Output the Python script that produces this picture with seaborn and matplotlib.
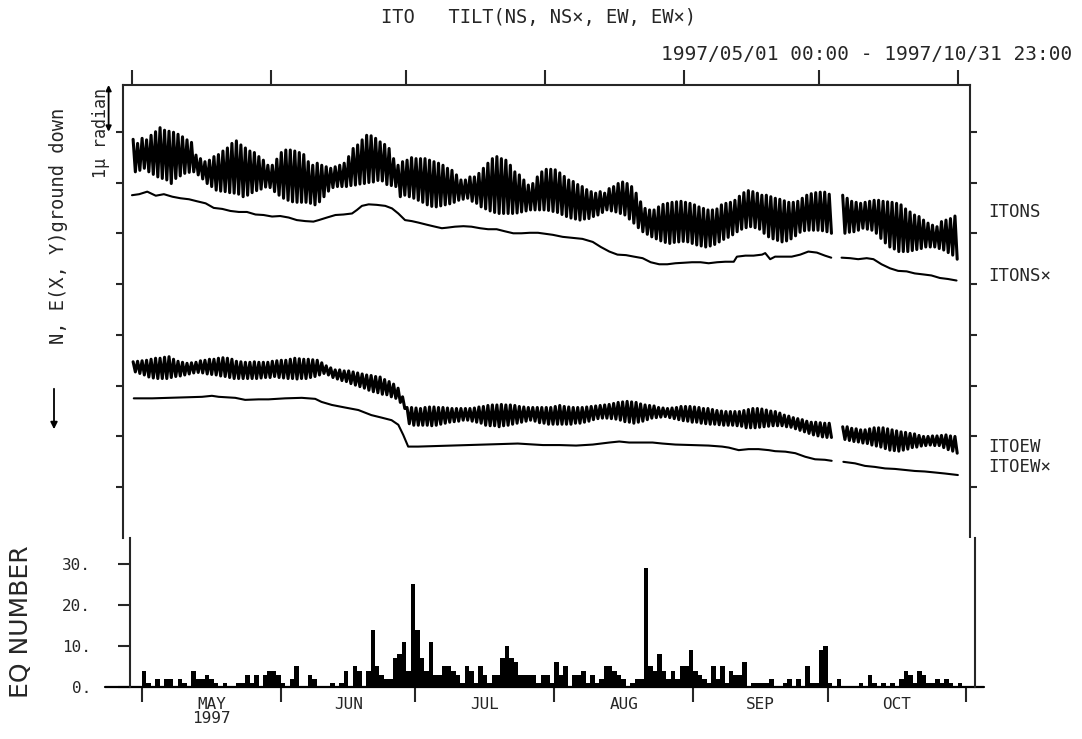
import numpy as np
import pandas as pd
import matplotlib
matplotlib.use("Agg")
import matplotlib.pyplot as plt
import seaborn as sns

nan = np.nan

# ---------------- data (day index 0 = 1997/05/01) ----------------
MONTH_STARTS = [0, 31, 61, 92, 123, 153, 184]
MONTH_LABELS = ["MAY\n1997", "JUN", "JUL", "AUG", "SEP", "OCT"]
TRACE_LABELS = ["ITONS", "ITONS×", "ITOEW", "ITOEW×"]
TRACE_LABEL_Y = [6.42, 5.16, 1.79, 1.40]   # label heights (micro-radian)

# daily max / min of the raw (tidal) tilt records, micro-radian
NS_hi = [7.85,7.77,7.87,7.84,7.93,8.00,8.08,8.03,8.01,7.99,
         7.95,7.90,7.84,7.79,7.54,7.47,7.41,7.44,7.51,7.55,
         7.62,7.68,7.77,7.82,7.74,7.68,7.62,7.59,7.51,7.44,
         7.34,7.34,7.46,7.59,7.64,7.64,7.62,7.59,7.55,7.41,
         7.34,7.38,7.34,7.31,7.28,7.31,7.34,7.38,7.51,7.67,
         7.74,7.84,7.93,7.92,7.87,7.80,7.75,7.67,7.47,7.34,
         7.41,7.44,7.49,7.47,7.47,7.47,7.44,7.41,7.38,7.34,
         7.28,7.24,7.15,7.05,7.05,7.11,7.11,7.18,7.28,7.38,
         7.47,7.51,7.47,7.44,7.34,7.21,7.15,7.05,6.95,6.98,
         7.11,7.21,7.26,7.26,7.25,7.19,7.12,7.05,7.02,6.96,
         6.92,6.86,6.82,6.79,6.82,6.79,6.88,6.92,6.98,7.01,
         6.98,6.92,6.79,6.62,6.49,6.46,6.46,6.52,6.57,6.59,
         6.61,6.62,6.63,6.61,6.59,6.56,6.52,6.49,6.46,6.46,
         6.48,6.56,6.59,6.61,6.65,6.73,6.80,6.84,6.82,6.79,
         6.75,6.75,6.72,6.69,6.67,6.64,6.61,6.61,6.63,6.69,
         6.75,6.78,6.80,6.81,6.81,6.77,nan,nan,6.75,6.69,
         6.63,6.61,6.59,6.61,6.63,6.65,6.65,6.63,6.62,6.61,
         6.59,6.56,6.48,6.42,6.36,6.33,6.26,6.20,6.16,6.13,
         6.23,6.26,6.29,6.34]
NS_lo = [7.21,7.24,7.28,7.21,7.16,7.11,7.08,7.05,6.98,7.08,
         7.13,7.18,7.20,7.21,7.15,7.07,6.98,6.92,6.85,6.83,
         6.82,6.80,6.79,6.77,6.72,6.75,6.80,6.84,6.87,6.91,
         6.90,6.82,6.75,6.69,6.65,6.62,6.61,6.61,6.61,6.59,
         6.56,6.62,6.72,6.83,6.90,6.92,6.92,6.92,6.94,6.95,
         6.97,6.98,7.00,7.01,7.04,7.03,6.96,6.94,6.92,6.72,
         6.75,6.72,6.69,6.65,6.61,6.56,6.53,6.52,6.54,6.56,
         6.58,6.61,6.65,6.67,6.69,6.63,6.59,6.52,6.48,6.44,
         6.41,6.39,6.39,6.39,6.39,6.40,6.42,6.44,6.46,6.46,
         6.46,6.46,6.45,6.43,6.41,6.37,6.33,6.30,6.28,6.26,
         6.28,6.29,6.33,6.36,6.41,6.46,6.44,6.42,6.39,6.36,
         6.28,6.20,6.11,6.03,5.98,5.93,5.89,5.85,5.82,5.80,
         5.82,5.83,5.84,5.83,5.80,5.77,5.75,5.73,5.75,5.78,
         5.83,5.88,5.92,5.97,6.03,6.08,6.11,6.13,6.11,6.08,
         6.00,5.93,5.89,5.86,5.83,5.85,5.89,5.95,6.02,6.05,
         6.06,6.06,6.06,6.05,6.03,6.00,nan,nan,6.00,6.02,
         6.03,6.06,6.10,6.08,6.06,6.00,5.90,5.81,5.73,5.69,
         5.64,5.64,5.64,5.66,5.68,5.70,5.73,5.73,5.73,5.70,
         5.67,5.62,5.57,5.49]
EW_hi = [3.47,3.48,3.49,3.50,3.52,3.54,3.54,3.56,3.57,3.52,
         3.48,3.46,3.44,3.45,3.46,3.49,3.50,3.52,3.52,3.54,
         3.55,3.54,3.52,3.48,3.47,3.46,3.46,3.47,3.46,3.46,
         3.46,3.48,3.49,3.50,3.50,3.52,3.54,3.53,3.52,3.52,
         3.51,3.50,3.45,3.39,3.35,3.31,3.31,3.29,3.29,3.27,
         3.25,3.23,3.21,3.20,3.18,3.17,3.12,3.08,3.03,2.95,
         2.78,2.57,2.57,2.56,2.55,2.57,2.58,2.58,2.57,2.57,
         2.56,2.55,2.55,2.55,2.55,2.55,2.56,2.58,2.59,2.61,
         2.62,2.62,2.63,2.62,2.62,2.61,2.59,2.58,2.57,2.57,
         2.57,2.57,2.57,2.57,2.59,2.61,2.59,2.58,2.57,2.57,
         2.57,2.58,2.59,2.60,2.61,2.62,2.63,2.65,2.67,2.68,
         2.69,2.68,2.67,2.64,2.62,2.61,2.60,2.57,2.56,2.55,
         2.56,2.57,2.59,2.59,2.59,2.58,2.57,2.55,2.55,2.53,
         2.51,2.50,2.49,2.49,2.49,2.49,2.51,2.53,2.55,2.55,
         2.54,2.52,2.50,2.49,2.46,2.42,2.40,2.37,2.35,2.33,
         2.30,2.28,2.28,2.27,2.26,2.26,nan,nan,2.19,2.19,
         2.16,2.15,2.13,2.13,2.15,2.17,2.17,2.17,2.15,2.13,
         2.11,2.09,2.08,2.06,2.05,2.02,2.00,2.00,2.01,2.01,
         2.02,2.03,2.01,2.00]
EW_lo = [3.27,3.24,3.21,3.17,3.15,3.14,3.14,3.14,3.16,3.18,
         3.19,3.21,3.23,3.25,3.26,3.25,3.23,3.22,3.21,3.19,
         3.18,3.16,3.14,3.14,3.14,3.14,3.14,3.14,3.15,3.16,
         3.16,3.18,3.16,3.15,3.14,3.14,3.13,3.14,3.14,3.16,
         3.18,3.21,3.24,3.21,3.16,3.13,3.10,3.08,3.04,3.01,
         2.98,2.95,2.91,2.88,2.86,2.83,2.82,2.78,2.75,2.67,
         2.55,2.25,2.22,2.22,2.22,2.22,2.21,2.22,2.24,2.26,
         2.28,2.29,2.30,2.32,2.32,2.30,2.28,2.26,2.22,2.21,
         2.21,2.19,2.21,2.22,2.24,2.26,2.28,2.30,2.32,2.30,
         2.27,2.26,2.24,2.24,2.24,2.24,2.24,2.24,2.26,2.26,
         2.28,2.30,2.33,2.35,2.36,2.36,2.35,2.34,2.32,2.29,
         2.28,2.26,2.28,2.30,2.33,2.36,2.37,2.38,2.39,2.37,
         2.35,2.33,2.31,2.30,2.28,2.28,2.26,2.25,2.24,2.24,
         2.23,2.22,2.22,2.22,2.21,2.20,2.17,2.17,2.17,2.18,
         2.19,2.20,2.21,2.21,2.21,2.19,2.18,2.15,2.12,2.09,
         2.06,2.03,2.01,1.99,1.98,1.98,nan,nan,1.94,1.92,
         1.90,1.89,1.87,1.86,1.83,1.81,1.79,1.76,1.73,1.72,
         1.71,1.73,1.75,1.78,1.79,1.81,1.82,1.83,1.82,1.82,
         1.78,1.74,1.71,1.67]

# corrected (tide removed) traces
NSx_day = [0.0,1.6,3.4,5.3,7.1,9.0,10.8,12.7,14.5,16.4,
           18.2,20.1,21.9,23.8,25.6,27.5,29.3,31.2,33.0,34.9,
           36.7,38.6,40.4,41.6,43.4,45.3,47.1,49.0,50.1,51.2,
           52.7,54.5,56.4,57.9,59.3,60.8,62.3,63.8,65.6,67.5,
           69.0,70.1,71.9,73.8,75.6,77.5,79.3,81.2,83.0,84.9,
           86.7,88.6,90.4,93.7,95.9,98.1,100.3,102.6,104.4,106.3,
           108.1,110.0,111.8,113.7,115.5,117.4,119.2,121.0,122.9,124.7,
           126.6,128.4,130.3,132.1,134.0,134.7,136.6,138.4,140.3,141.0,
           142.1,143.2,145.1,146.9,148.8,150.6,152.5,154.3,155.7,
           158.0,159.9,161.7,163.6,165.1,166.9,168.8,170.6,172.5,174.3,
           176.2,178.0,179.9,181.7,183.6]
NSx_val = [6.75,6.77,6.82,6.74,6.77,6.72,6.69,6.67,6.63,6.59,
           6.50,6.48,6.44,6.42,6.42,6.37,6.36,6.33,6.34,6.31,
           6.26,6.24,6.23,6.26,6.31,6.36,6.37,6.39,6.46,6.54,
           6.57,6.56,6.54,6.49,6.39,6.26,6.24,6.21,6.17,6.13,
           6.10,6.11,6.13,6.14,6.13,6.10,6.08,6.08,6.04,6.00,
           6.00,6.01,6.01,5.97,5.93,5.91,5.89,5.83,5.73,5.64,
           5.58,5.57,5.54,5.51,5.43,5.39,5.39,5.41,5.42,5.43,
           5.43,5.41,5.43,5.44,5.44,5.54,5.56,5.56,5.58,5.61,
           5.49,5.54,5.54,5.54,5.58,5.64,5.62,5.56,5.52,
           5.52,5.51,5.49,5.51,5.49,5.39,5.31,5.26,5.25,5.21,
           5.19,5.17,5.12,5.10,5.07]
EWx_day = [0.4,4.5,8.2,11.9,15.6,17.8,19.3,23.0,25.2,28.2,
           30.4,34.1,37.8,40.8,42.2,44.5,47.4,50.4,53.3,55.6,
           57.8,59.3,60.4,61.5,63.7,67.4,71.1,74.8,78.5,82.2,
           85.9,89.6,91.5,95.2,98.9,102.6,106.3,108.5,110.7,113.7,
           115.9,118.1,121.0,124.7,128.4,131.4,132.9,135.1,137.3,139.5,
           141.8,143.2,145.5,147.7,149.9,152.1,154.3,155.8,
           158.4,161.0,163.2,165.4,167.7,169.9,172.1,174.3,176.5,178.8,
           181.0,183.9]
EWx_val = [2.75,2.75,2.76,2.77,2.78,2.80,2.78,2.76,2.72,2.73,
           2.73,2.75,2.76,2.74,2.68,2.62,2.57,2.52,2.42,2.37,
           2.32,2.23,2.03,1.80,1.80,1.81,1.82,1.83,1.84,1.85,
           1.86,1.84,1.83,1.83,1.82,1.84,1.88,1.90,1.88,1.88,
           1.88,1.86,1.84,1.83,1.82,1.80,1.78,1.73,1.75,1.75,
           1.73,1.71,1.70,1.67,1.60,1.55,1.54,1.52,
           1.50,1.47,1.42,1.40,1.37,1.36,1.34,1.32,1.31,1.29,
           1.27,1.24]
GAP_DAY = 157  # recording gap (no data early October)

# daily earthquake counts
EQ = [4,1,0,2,0,2,2,0,2,1, 0,4,2,2,3,2,1,0,1,0, 0,1,1,3,1,3,0,3,4,4,
      3,1,0,2,5,0,0,3,2,0, 0,0,1,0,1,4,0,5,4,0, 4,14,5,3,2,2,7,8,11,4,
      25,14,7,4,11,3,3,5,5,4, 3,1,5,4,1,5,3,1,3,3, 7,10,7,6,3,3,3,3,1,3,
      3,1,6,3,5,0,3,3,4,1, 3,1,2,5,5,4,3,2,0,1, 2,2,29,5,4,8,4,2,4,2,
      5,5,9,4,3,2,1,5,2,5, 1,4,3,3,6,0,1,1,1,1, 2,0,0,1,2,0,2,0,5,1,
      1,9,10,1,0,2,0,0,0,0, 1,0,3,1,0,1,0,1,0,2, 4,3,1,4,3,1,1,2,1,2,
      1,0,1,0]

# ---------------- figure ----------------
sns.set_theme(style="ticks")
MONO = ["DejaVu Sans Mono", "DejaVu Sans"]
plt.rcParams["font.family"] = MONO
plt.rcParams["axes.linewidth"] = 1.5

W, H = 1082, 739
fig = plt.figure(figsize=(W / 100, H / 100), dpi=100)
fig.patch.set_facecolor("white")


def rect(l, t, r, b):
    return [l / W, 1 - b / H, (r - l) / W, (b - t) / H]


ax = fig.add_axes(rect(123, 85, 970, 538))
axb = fig.add_axes(rect(130, 538, 975, 687))

days = np.arange(len(NS_hi))


def tidal_trace(a, hi, lo):
    """Raw record drawn as a line running through each day's max then min."""
    hi = np.asarray(hi, float)
    lo = np.asarray(lo, float)
    df = pd.DataFrame({
        "t": np.column_stack([days + 0.25, days + 0.75]).ravel(),
        "v": np.column_stack([hi, lo]).ravel(),
    })
    df["seg"] = (df["t"] > GAP_DAY).astype(int)
    df = df.dropna()
    sns.lineplot(data=df, x="t", y="v", units="seg", estimator=None,
                 sort=False, color="black", lw=2.2, ax=a, legend=False)


tidal_trace(ax, NS_hi, NS_lo)
tidal_trace(ax, EW_hi, EW_lo)

for d, v in [(NSx_day, NSx_val), (EWx_day, EWx_val)]:
    df = pd.DataFrame({"day": d, "val": v})
    df["seg"] = (df["day"] > GAP_DAY).astype(int)
    sns.lineplot(data=df, x="day", y="val", units="seg", estimator=None,
                 sort=False, color="black", lw=1.5, ax=ax, legend=False)

ax.set_xlim(-2.0, 186.6)
ax.set_ylim(0, 8.92)
ax.set_xlabel("")
ax.set_ylabel("")
ax.spines["bottom"].set_visible(False)
ax.set_xticks(MONTH_STARTS)
ax.tick_params(axis="x", bottom=False, top=True, labelbottom=False,
               labeltop=False, direction="out", length=11, width=1.5)
ax.set_yticks(range(1, 9))
ax.tick_params(axis="y", left=True, right=True, labelleft=False,
               labelright=False, direction="out", length=5, width=1.5)

# trace names at the right
for name, yv in zip(TRACE_LABELS, TRACE_LABEL_Y):
    ax.text(1.022, yv, name, transform=ax.get_yaxis_transform(),
            ha="left", va="center", fontsize=12.5, family=MONO)

# 1 micro-radian scale arrow
ax.annotate("", xy=(-0.017, 8.0), xytext=(-0.017, 8.92),
            xycoords=ax.get_yaxis_transform(),
            textcoords=ax.get_yaxis_transform(),
            arrowprops=dict(arrowstyle="<|-|>", lw=1.3, color="black",
                            mutation_scale=8, shrinkA=0, shrinkB=0),
            annotation_clip=False)

# ---- earthquake counts ----
sns.barplot(x=days + 0.5, y=EQ, native_scale=True, width=1.0,
            color="black", saturation=1, linewidth=0, errorbar=None,
            ax=axb)
axb.set_xlim(-2.68, 185.9)
axb.set_ylim(0, 36.3)
axb.set_xlabel("")
axb.set_ylabel("")
axb.spines["top"].set_visible(False)
axb.spines["bottom"].set_visible(False)
axb.axhline(0, xmin=-0.03, xmax=1.011, color="black", lw=1.6, clip_on=False)
axb.set_yticks([0, 10, 20, 30])
axb.set_yticklabels(["0.", "10.", "20.", "30."])
axb.tick_params(axis="y", left=True, right=False, direction="out",
                length=9, width=1.5, pad=19, labelsize=11.5)
axb.set_xticks(MONTH_STARTS)
axb.set_xticklabels([])
axb.set_xticks([(a + b) / 2 for a, b in zip(MONTH_STARTS[:-1], MONTH_STARTS[1:])],
               minor=True)
axb.set_xticklabels(MONTH_LABELS, minor=True, fontsize=11.5, linespacing=0.95)
axb.tick_params(axis="x", which="major", bottom=True, direction="out",
                length=11, width=1.5)
axb.tick_params(axis="x", which="minor", length=0, pad=7)

# ---- texts ----
fig.text(381 / W, 1 - 18 / H, "ITO   TILT(NS, NS×, EW, EW×)",
         ha="left", va="center", fontsize=13.5, family=MONO)
fig.text(1072 / W, 1 - 55 / H, "1997/05/01 00:00 - 1997/10/31 23:00",
         ha="right", va="center", fontsize=14, family=MONO)
fig.text(59 / W, 1 - 226 / H, "N, E(X, Y)ground down", rotation=90,
         ha="center", va="center", fontsize=13.5, family=MONO)
fig.text(101 / W, 1 - 133 / H, "1μ radian", rotation=90,
         ha="center", va="center", fontsize=12, family=MONO)
fig.text(21 / W, 1 - 622 / H, "EQ NUMBER", rotation=90,
         ha="center", va="center", fontsize=18, family=["DejaVu Sans"])
fig.add_artist(matplotlib.patches.FancyArrowPatch(
    (54 / W, 1 - 386 / H), (54 / W, 1 - 432 / H), transform=fig.transFigure,
    arrowstyle="-|>", mutation_scale=10, lw=1.3, color="black"))

fig.savefig("out.png", dpi=100, facecolor="white")
